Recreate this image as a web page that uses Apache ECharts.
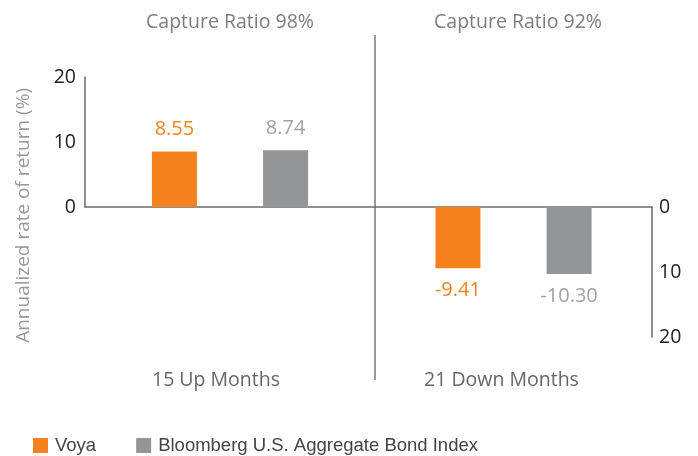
<html>
<head>
<meta charset="utf-8" />
<title>Capture ratio</title>
<script src="https://cdn.jsdelivr.net/npm/echarts@6/dist/echarts.min.js"></script>
<style type="text/css">
body { margin: 0; }
#main { width: 698px; height: 456px; }
</style>
</head>
<body>
<div id="main"></div>
<script type="text/javascript">
var myChart = echarts.init(document.getElementById("main"));

// data
var categories = ["15 Up Months", "21 Down Months"];
var captureRatios = [98, 92];
var voya = [8.55, -9.41];
var bloomberg = [8.74, -10.30];
var seriesNames = ["Voya", "Bloomberg U.S. Aggregate Bond Index"];

var orange = "#F5821F";
var grey = "#939598";
var font = "Open Sans";

function barSeries(name, value, idx, color, labelColor, pos) {
	return {
		name: name,
		type: "bar",
		xAxisIndex: idx,
		yAxisIndex: idx,
		data: [value],
		barWidth: 45,
		barGap: "147%",
		itemStyle: { color: color },
		label: {
			show: true,
			position: pos,
			distance: 12,
			color: labelColor,
			fontSize: 20,
			fontFamily: font,
			formatter: function (p) { return p.value.toFixed(2); }
		}
	};
}

option = {
	backgroundColor: "#fff",
	animation: false,
	title: [
		{
			text: "Capture Ratio " + captureRatios[0] + "%",
			left: 225, top: 7, textAlign: "center",
			textStyle: { color: "#7d7d7d", fontSize: 19.5, fontWeight: 400, fontFamily: font }
		},
		{
			text: "Capture Ratio " + captureRatios[1] + "%",
			left: 513, top: 7, textAlign: "center",
			textStyle: { color: "#7d7d7d", fontSize: 19.5, fontWeight: 400, fontFamily: font }
		}
	],
	legend: {
		left: 28,
		top: 431,
		itemWidth: 15,
		itemHeight: 15,
		itemGap: 40,
		icon: "rect",
		data: seriesNames,
		textStyle: { color: "#444", fontSize: 18.5, fontFamily: "Liberation Sans", padding: [0, 0, 0, 2] }
	},
	graphic: [
		{
			type: "text",
			left: 14, top: 88,
			rotation: Math.PI / 2,
			style: {
				text: "Annualized rate of return (%)",
				fill: "#999",
				fontSize: 19,
				fontFamily: font
			}
		},
		{
			type: "line",
			shape: { x1: 375, y1: 35, x2: 375, y2: 380 },
			style: { stroke: "#555", lineWidth: 1.2 }
		}
	],
	grid: [
		{ left: 85, right: 323, top: 77, height: 130, outerBoundsMode: "none" },
		{ left: 375, right: 46, top: 207, height: 130, outerBoundsMode: "none" }
	],
	xAxis: [
		{
			gridIndex: 0, type: "category", data: [categories[0]],
			axisLine: { lineStyle: { color: "#6d6d6d", width: 1.5 } },
			axisTick: { show: false },
			axisLabel: { margin: 163, color: "#666", fontSize: 19.5, fontFamily: font, padding: [0, 28, 0, 0] }
		},
		{
			gridIndex: 1, type: "category", data: [categories[1]],
			position: "top",
			axisLine: { onZero: false, lineStyle: { color: "#6d6d6d", width: 1.5 } },
			axisTick: { show: false },
			axisLabel: { inside: true, margin: 163, color: "#666", fontSize: 19.5, fontFamily: font, padding: [0, 24, 0, 0] }
		}
	],
	yAxis: [
		{
			gridIndex: 0, type: "value", min: 0, max: 20, interval: 10,
			position: "left",
			axisLine: { show: true, lineStyle: { color: "#6d6d6d", width: 1.5 } },
			axisTick: { show: false },
			splitLine: { show: false },
			axisLabel: { margin: 9, color: "#222", fontSize: 19.5, fontFamily: font }
		},
		{
			gridIndex: 1, type: "value", min: -20, max: 0, interval: 10,
			position: "right",
			axisLine: { show: true, lineStyle: { color: "#6d6d6d", width: 1.5 } },
			axisTick: { show: false },
			splitLine: { show: false },
			axisLabel: {
				margin: 7, color: "#222", fontSize: 19.5, fontFamily: font,
				formatter: function (v) { return Math.abs(v); }
			}
		}
	],
	series: [
		barSeries(seriesNames[0], voya[0], 0, orange, orange, "top"),
		barSeries(seriesNames[1], bloomberg[0], 0, grey, "#a2a2a2", "top"),
		barSeries(seriesNames[0], voya[1], 1, orange, orange, "bottom"),
		barSeries(seriesNames[1], bloomberg[1], 1, grey, "#a2a2a2", "bottom")
	]
};

myChart.setOption(option);
</script>
</body>
</html>
